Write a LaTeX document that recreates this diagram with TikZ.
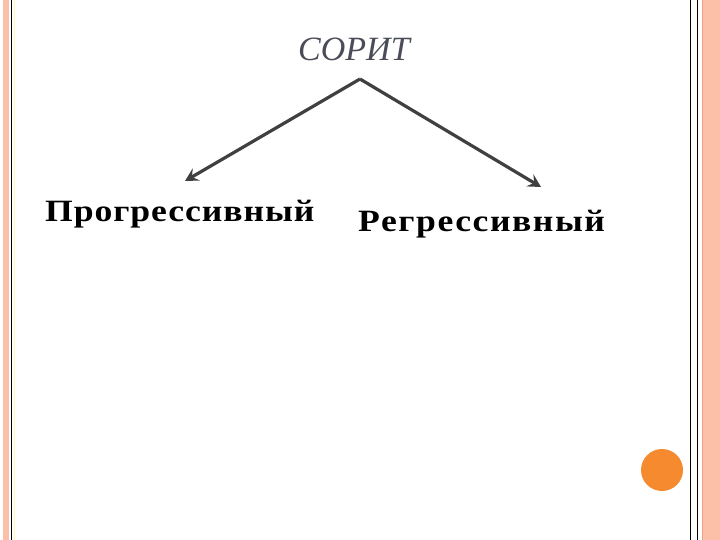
\documentclass[tikz,border=0pt]{standalone}
\usepackage{fontspec}
\setmainfont{Liberation Serif}
\usetikzlibrary{arrows.meta}
\definecolor{stripe}{HTML}{FCC0A8}
\definecolor{stripedark}{HTML}{F0A080}
\definecolor{thin}{HTML}{F3D8C8}
\definecolor{dot}{HTML}{F68A2E}
\definecolor{titlec}{HTML}{4A4C58}
\definecolor{arrowc}{HTML}{404040}
\tikzset{
  lbl/.style={inner sep=0pt, anchor=base west, font=\bfseries\fontsize{31}{34}\selectfont, text=black},
  conn/.style={draw=arrowc, line width=3.2pt, -{Stealth[length=13pt,width=14pt,inset=5pt]}}
}
\begin{document}
\begin{tikzpicture}[x=1pt,y=-1pt]
\useasboundingbox (0,0) rectangle (720,540);
\fill[white] (0,0) rectangle (720,540);
% left border
\fill[stripe] (3,0) rectangle (9,540);
\draw[thin, line width=0.8pt] (11.5,0) -- (11.5,540);
\draw[yellow!30, line width=0.6pt] (14,0) -- (14,540);
% right border
\draw[thin, line width=0.8pt] (690,0) -- (690,540);
\draw[thin, line width=0.8pt] (697,0) -- (697,540);
\fill[stripe] (702,0) rectangle (720,540);
\draw[stripedark, line width=0.8pt] (702.5,0) -- (702.5,540);
% dot
\fill[dot] (662,470) circle (21);
% nodes
\node[inner sep=0pt, anchor=base west, font=\itshape\fontsize{34}{37}\selectfont, text=titlec] (title) at (298,61) {СОРИТ};
\coordinate (apex) at (360,79);
\node[lbl] (left) at (45,222) {\addfontfeature{FakeStretch=1.15,LetterSpace=3}Прогрессивный};
\node[lbl] (right) at (358,231) {\addfontfeature{FakeStretch=1.15,LetterSpace=5}Регрессивный};
\coordinate (lt) at (185,181);
\coordinate (rt) at (541,187);
\draw[conn] (apex) -- (lt);
\draw[conn] (apex) -- (rt);
\end{tikzpicture}
\end{document}
